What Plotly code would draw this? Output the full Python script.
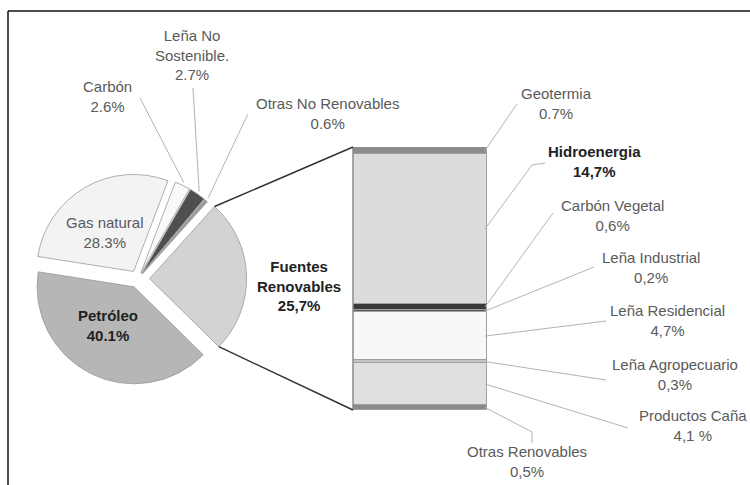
import math
import plotly.graph_objects as go

# ---------------- data ----------------
# Pie: national energy supply by source (%), drawn clockwise from the renewables slice
pie_labels = ["Fuentes Renovables", "Petróleo", "Gas natural", "Carbón",
              "Leña No Sostenible.", "Otras No Renovables"]
pie_values = [25.7, 40.1, 28.3, 2.6, 2.7, 0.6]
pie_decimal = [",", ".", ".", ".", ".", "."]

# Bar: breakdown of the renewable sources (%), listed bottom to top
bar_labels = ["Otras Renovables", "Productos Caña", "Leña Agropecuario",
              "Leña Residencial", "Leña Industrial", "Carbón Vegetal",
              "Hidroenergia", "Geotermia"]
bar_values = [0.5, 4.1, 0.3, 4.7, 0.2, 0.6, 14.7, 0.7]
bar_decimal = [",", ",", ",", ",", ",", ",", ",", "."]

# ---------------- styles ----------------
pie_colors = ["#d3d3d3", "#b6b6b6", "#f3f3f3", "#f9f9f9", "#4f4f4f", "#9c9c9c"]
pie_pull = [0.12, 0.09, 0.09, 0.07, 0.07, 0.07]
bar_colors = ["#8a8a8a", "#e0e0e0", "#c4c4c4", "#f8f8f8",
              "#5a5a5a", "#3a3a3a", "#dcdcdc", "#8c8c8c"]

pie_display = {"Leña No Sostenible.": "Leña No<br>Sostenible.",
               "Fuentes Renovables": "Fuentes<br>Renovables"}
bold_labels = {"Fuentes Renovables", "Petróleo", "Hidroenergia"}
pct_suffix = {"Productos Caña": " %"}

W, H = 750, 485
FONT = "Liberation Sans, Arial, sans-serif"
FONT_SIZE = 15


def fx(x):
    return x / W


def fy(y):
    return 1 - y / H


# label centres (pixels)
label_pos = {
    "Leña No Sostenible.": (192, 55),
    "Carbón": (107, 97),
    "Otras No Renovables": (327, 113),
    "Gas natural": (105, 232),
    "Petróleo": (108, 325),
    "Fuentes Renovables": (299, 286),
    "Geotermia": (556, 103),
    "Hidroenergia": (594, 162),
    "Carbón Vegetal": (612, 215),
    "Leña Industrial": (651, 267),
    "Leña Residencial": (667, 320),
    "Leña Agropecuario": (675, 374),
    "Productos Caña": (693, 425),
    "Otras Renovables": (527, 461),
}

# where each leader line meets its label (pixels); lists allow an elbow
leader_end = {
    "Carbón": [(140, 98)],
    "Leña No Sostenible.": [(193, 88)],
    "Otras No Renovables": [(248, 114)],
    "Geotermia": [(517, 104)],
    "Hidroenergia": [(532, 165), (545, 163)],
    "Carbón Vegetal": [(553, 213)],
    "Leña Industrial": [(594, 267)],
    "Leña Residencial": [(606, 321)],
    "Leña Agropecuario": [(606, 380)],
    "Productos Caña": [(628, 428)],
    "Otras Renovables": [(532, 432), (532, 443)],
}

# ---------------- geometry ----------------
PIE_CX, PIE_CY, PIE_R = 138, 279, 97
ROTATION = 42
half = PIE_R * (1 + max(pie_pull))
pie_domain = dict(x=[fx(PIE_CX - half), fx(PIE_CX + half)],
                  y=[fy(PIE_CY + half), fy(PIE_CY - half)])
pie_total = sum(pie_values)


def slice_point(i, frac, r_scale=1.0):
    start = ROTATION + 360 * sum(pie_values[:i]) / pie_total
    span = 360 * pie_values[i] / pie_total
    mid = math.radians(start + span / 2)
    ang = math.radians(start + span * frac)
    ox = pie_pull[i] * PIE_R * math.sin(mid)
    oy = -pie_pull[i] * PIE_R * math.cos(mid)
    return (PIE_CX + ox + PIE_R * r_scale * math.sin(ang),
            PIE_CY + oy - PIE_R * r_scale * math.cos(ang))


BAR_X0, BAR_X1, BAR_TOP, BAR_BOT = 353, 487, 147, 410
bar_total = sum(bar_values)


def bar_px(v):
    return BAR_BOT - (BAR_BOT - BAR_TOP) * v / bar_total


def pct_text(v, dec, suffix="%"):
    return f"{v:.1f}".replace(".", dec) + suffix


# ---------------- figure ----------------
fig = go.Figure()

fig.add_trace(go.Pie(
    labels=pie_labels, values=pie_values, sort=False, direction="clockwise",
    rotation=ROTATION, pull=pie_pull, textinfo="none", hoverinfo="label+value",
    marker=dict(colors=pie_colors, line=dict(color="#9a9a9a", width=0.8)),
    domain=pie_domain, showlegend=False,
))

for lab, val, col in zip(bar_labels, bar_values, bar_colors):
    fig.add_trace(go.Bar(
        x=[0], y=[val], width=1, name=lab, marker_color=col,
        marker_line=dict(color="#a0a0a0", width=1),
        xaxis="x", yaxis="y", showlegend=False, hoverinfo="name+y",
    ))

shapes = []
# outer frame (top and left edges)
shapes.append(dict(type="line", xref="paper", yref="paper",
                   x0=fx(8), y0=fy(11), x1=1, y1=fy(11),
                   line=dict(color="#111", width=1.5)))
shapes.append(dict(type="line", xref="paper", yref="paper",
                   x0=fx(8), y0=fy(11), x1=fx(8), y1=0,
                   line=dict(color="#111", width=1.5)))
# darker left edge of the bar
shapes.append(dict(type="line", xref="paper", yref="paper",
                   x0=fx(BAR_X0), y0=fy(BAR_TOP), x1=fx(BAR_X0), y1=fy(BAR_BOT),
                   line=dict(color="#8c8c8c", width=1.5)))

# connectors from the renewables slice to the bar
ren = 0
p_top = slice_point(ren, 0.0)
p_bot = slice_point(ren, 1.0)
for (sx, sy), ty in ((p_top, bar_px(bar_total)), (p_bot, bar_px(0))):
    shapes.append(dict(type="line", xref="paper", yref="paper",
                       x0=fx(sx), y0=fy(sy), x1=fx(BAR_X0), y1=fy(ty),
                       line=dict(color="#333", width=1.5)))


def leader(points):
    path = "M " + " L ".join(f"{fx(x):.5f},{fy(y):.5f}" for x, y in points)
    return dict(type="path", xref="paper", yref="paper", path=path,
                line=dict(color="#b4b4b4", width=1))


for i, lab in enumerate(pie_labels):
    if lab in leader_end:
        shapes.append(leader([slice_point(i, 0.5, 1.03)] + leader_end[lab]))

cum = 0
for lab, val in zip(bar_labels, bar_values):
    mid = bar_px(cum + val / 2)
    cum += val
    shapes.append(leader([(BAR_X1 - 2, mid)] + leader_end[lab]))

annotations = []


def add_label(lab, name, pct):
    x, y = label_pos[lab]
    bold = lab in bold_labels
    txt = f"{name}<br>{pct}"
    if bold:
        txt = f"<b>{txt}</b>"
    annotations.append(dict(
        x=fx(x), y=fy(y), xref="paper", yref="paper", text=txt, showarrow=False,
        xanchor="center", yanchor="middle", align="center",
        font=dict(family=FONT, size=FONT_SIZE, color="#222" if bold else "#5a5a5a"),
    ))


for lab, val, dec in zip(pie_labels, pie_values, pie_decimal):
    add_label(lab, pie_display.get(lab, lab), pct_text(val, dec))
for lab, val, dec in zip(bar_labels, bar_values, bar_decimal):
    add_label(lab, lab, pct_text(val, dec, pct_suffix.get(lab, "%")))

fig.update_layout(
    width=W, height=H, margin=dict(l=0, r=0, t=0, b=0),
    paper_bgcolor="white", plot_bgcolor="white",
    barmode="stack", bargap=0, showlegend=False,
    xaxis=dict(domain=[fx(BAR_X0), fx(BAR_X1)], range=[-0.5, 0.5], visible=False,
               fixedrange=True),
    yaxis=dict(domain=[fy(BAR_BOT), fy(BAR_TOP)], range=[0, bar_total], visible=False,
               fixedrange=True),
    shapes=shapes, annotations=annotations,
)

fig.write_html("out.html")
